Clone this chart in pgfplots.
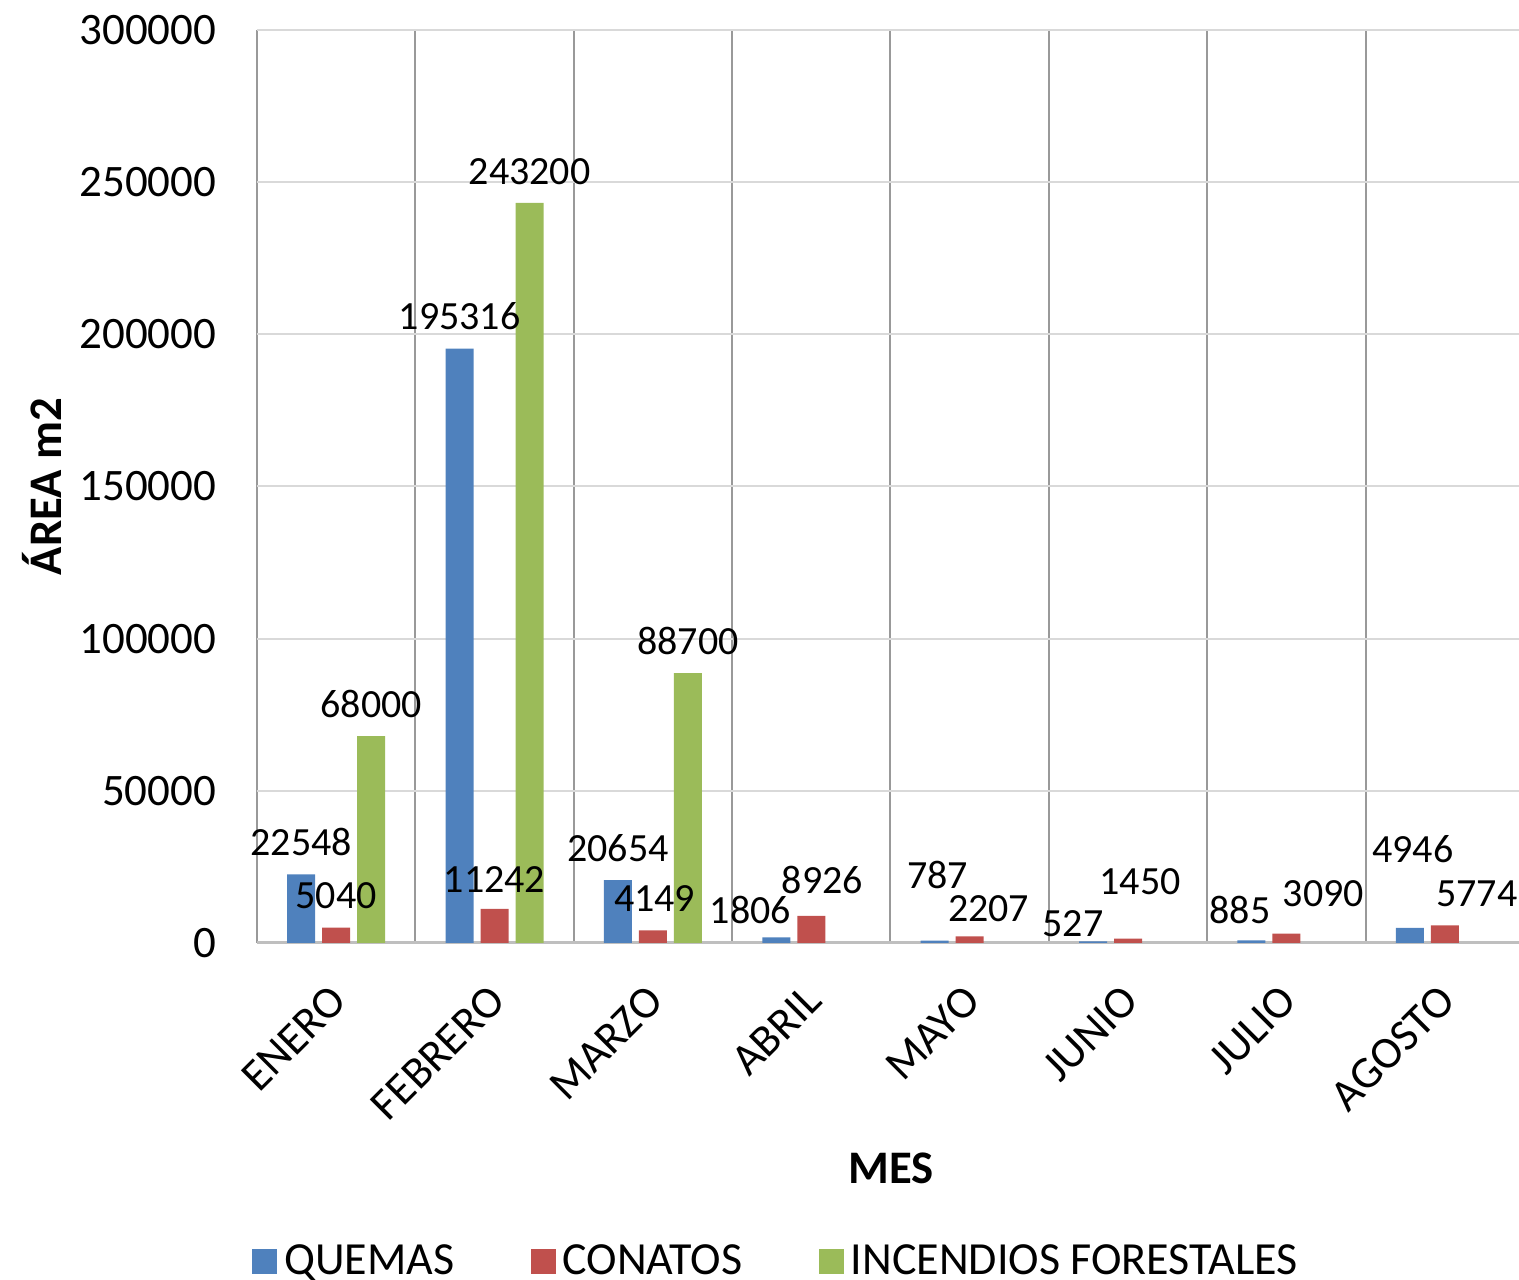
\documentclass[border=0pt]{standalone}
\usepackage{pgfplots}
\pgfplotsset{compat=1.18}
\usepackage{pgfplotstable}
\usepackage{fontspec}
\setmainfont{Carlito}

\definecolor{cquemas}{HTML}{4F81BD}
\definecolor{cconatos}{HTML}{C0504D}
\definecolor{cincendios}{HTML}{9BBB59}

% x, value, label shift dx / dy (pt)
\pgfplotstableread{
x y dx dy
0 22548 0 0
1 195316 0 0
2 20654 0 0
3 1806 -7.8 -1.35
4 787 0.9 9.9
5 527 -6 -4.2
6 885 -3.45 -0.6
7 4946 0.9 14.1
}\quemas
\pgfplotstableread{
x y dx dy
0 5040 0 0
1 11242 0 -0.6
2 4149 0.5 0
3 8926 3.3 1.2
4 2207 5.7 -1.2
5 1450 3.6 7.5
6 3090 11.1 2.4
7 5774 9.6 0
}\conatos
\pgfplotstableread{
x y dx dy
0 68000 0 0
1 243200 0 0
2 88700 0 0
}\incendios

\begin{document}
\begin{tikzpicture}
\begin{axis}[
    name=ax,
    scale only axis,
    width=380.1pt, height=273.9pt,
    ybar=2.1pt, bar width=8.4pt,
    xmin=-0.5, xmax=7.5,
    ymin=0, ymax=300000,
    xtick={0,...,7},
    xticklabels={ENERO,FEBRERO,MARZO,ABRIL,MAYO,JUNIO,JULIO,AGOSTO},
    minor xtick={-0.5,0.5,...,7.5},
    ytick={0,50000,...,300000},
    scaled y ticks=false,
    /pgf/number format/.cd, fixed, precision=0, 1000 sep={}, assume math mode=true,
    /pgfplots/.cd,
    major tick length=0pt, minor tick length=0pt,
    xminorgrids, ymajorgrids,
    minor x grid style={color=black!40, line width=0.6pt},
    major y grid style={color=black!15, line width=0.6pt},
    axis x line=bottom, axis y line=left,
    axis line style={-, color=black!25, line width=0.9pt},
    y axis line style={draw=none},
    tick label style={font=\fontsize{13.5}{16}\selectfont},
    yticklabel style={xshift=-8.7pt},
    xticklabel style={rotate=45, anchor=north east, inner sep=0pt, xshift=-10pt, yshift=-6.6pt},
    xlabel={MES}, ylabel={ÁREA m2},
    label style={font=\bfseries\fontsize{14}{16}\selectfont},
    x label style={at={(axis description cs:0.5004,-0.2464)}, anchor=center},
    y label style={at={(axis description cs:-0.1697,0.5)}, anchor=center, rotate=0},
    visualization depends on={\thisrow{dx}\as\lbdx},
    visualization depends on={\thisrow{dy}\as\lbdy},
    nodes near coords,
    every node near coord/.append style={font=\fontsize{12}{14}\selectfont, color=black, yshift=2pt, xshift=\lbdx pt, yshift=\lbdy pt},
    legend columns=3,
    legend image code/.code={\path[#1, draw=none] (0pt,-3.8pt) rectangle (7.5pt,3.7pt);},
    legend style={draw=none, fill=none, at={(-0.012,-0.349)}, anchor=west,
        font=\fontsize{13.8}{16}\selectfont,
        /tikz/every even column/.append style={column sep=21pt}},
]
\addplot[fill=cquemas, draw=none] table[x=x, y=y] {\quemas};
\addplot[fill=cconatos, draw=none] table[x=x, y=y] {\conatos};
\addplot[fill=cincendios, draw=none] table[x=x, y=y] {\incendios};
\legend{QUEMAS, CONATOS, INCENDIOS FORESTALES}
\end{axis}
\pgfresetboundingbox
\path[use as bounding box] ([shift={(-77.1pt,-101.1pt)}]ax.south west) rectangle ([shift={(378.6pt,9pt)}]ax.north west);
\end{tikzpicture}
\end{document}
